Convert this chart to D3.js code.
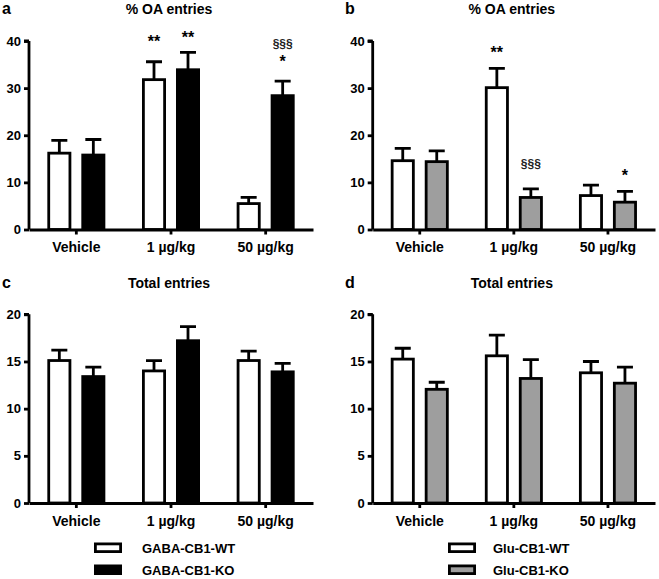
<!DOCTYPE html>
<html>
<head>
<meta charset="utf-8">
<script src="https://cdn.jsdelivr.net/npm/d3@7"></script>
<style>
  html, body { margin: 0; padding: 0; background: #fff; }
  svg text { font-family: "Liberation Sans", Arial, Helvetica, sans-serif; font-weight: bold; fill: #000; }
</style>
</head>
<body>
<svg id="chart" width="659" height="579"></svg>
<script>
// ---------- DATA ----------
const categories = ["Vehicle", "1 µg/kg", "50 µg/kg"];

// Panel a: % OA entries, GABA-CB1
const aWT = [16.2, 31.8, 5.5];
const aWTerr = [2.7, 3.8, 1.3];
const aKO = [15.8, 33.9, 28.4];
const aKOerr = [3.3, 3.7, 3.1];

// Panel b: % OA entries, Glu-CB1
const bWT = [14.6, 30.1, 7.2];
const bWTerr = [2.6, 4.1, 2.2];
const bKO = [14.4, 6.8, 5.8];
const bKOerr = [2.3, 1.8, 2.3];

// Panel c: Total entries, GABA-CB1
const cWT = [15.1, 14.0, 15.1];
const cWTerr = [1.1, 1.1, 1.0];
const cKO = [13.4, 17.2, 13.9];
const cKOerr = [1.0, 1.5, 0.9];

// Panel d: Total entries, Glu-CB1
const dWT = [15.25, 15.6, 13.8];
const dWTerr = [1.15, 2.2, 1.2];
const dKO = [12.05, 13.2, 12.7];
const dKOerr = [0.75, 2.0, 1.7];

const ticksOA = [0, 10, 20, 30, 40];
const ticksTotal = [0, 5, 10, 15, 20];

// significance marks: [category, series, text, level in data units]
const aMarks = [["1 µg/kg", "WT", "**", 38.8], ["1 µg/kg", "KO", "**", 39.6],
                ["50 µg/kg", "KO", "§§§", 38.6], ["50 µg/kg", "KO", "*", 34.4]];
const bMarks = [["1 µg/kg", "WT", "**", 36.4], ["1 µg/kg", "KO", "§§§", 13.1],
                ["50 µg/kg", "KO", "*", 10.2]];

const legendGABA = ["GABA-CB1-WT", "GABA-CB1-KO"];
const legendGlu = ["Glu-CB1-WT", "Glu-CB1-KO"];

// ---------- DRAW ----------
const svg = d3.select("#chart");
const LW = 2.8;

function panel(cfg) {
  const g = svg.append("g");
  const x = d3.scaleBand().domain(categories).range([cfg.x0, cfg.x1]).padding(0);
  const xs = d3.scaleBand().domain(["WT", "KO"]).range([-29, 29]).paddingInner(0.294).paddingOuter(0);
  const y = d3.scaleLinear().domain([0, cfg.ymax]).range([cfg.y0, cfg.y1]);

  const rows = [];
  categories.forEach((c, i) => {
    rows.push({c, s: "WT", v: cfg.wt[i], e: cfg.wtErr[i], fill: "#fff"});
    rows.push({c, s: "KO", v: cfg.ko[i], e: cfg.koErr[i], fill: cfg.koFill});
  });
  const cx = d => x(d.c) + x.bandwidth() / 2 + xs(d.s) + xs.bandwidth() / 2;

  // error bars (upper)
  g.selectAll(".err").data(rows).enter().append("path")
    .attr("d", d => `M${cx(d)},${y(d.v)}V${y(d.v + d.e)}M${cx(d) - 8},${y(d.v + d.e)}H${cx(d) + 8}`)
    .attr("stroke", "#000").attr("stroke-width", LW).attr("fill", "none");

  // bars
  g.selectAll(".bar").data(rows).enter().append("rect")
    .attr("x", d => x(d.c) + x.bandwidth() / 2 + xs(d.s) + LW / 2)
    .attr("width", xs.bandwidth() - LW)
    .attr("y", d => y(d.v))
    .attr("height", d => y(0) - y(d.v))
    .attr("fill", d => d.fill).attr("stroke", "#000").attr("stroke-width", LW);

  // y axis
  const ya = d3.axisLeft(y).tickValues(cfg.ticks).tickSize(5).tickPadding(3).tickFormat(d3.format("d"));
  const yg = g.append("g").attr("transform", `translate(${cfg.x0},0)`).call(ya);
  yg.select(".domain").attr("d", `M0,${cfg.y0}V${cfg.y1}M-5,${cfg.y1}H0`).attr("stroke-width", LW);
  yg.selectAll(".tick line").attr("stroke-width", LW);
  yg.selectAll(".tick text").style("font-size", "13px");
  yg.attr("font-family", null).attr("font-size", null);

  // x axis
  const xa = d3.axisBottom(x).tickSize(5).tickPadding(8).tickSizeOuter(0);
  const xg = g.append("g").attr("transform", `translate(0,${cfg.y0})`).call(xa);
  xg.select(".domain").attr("stroke-width", LW);
  xg.selectAll(".tick line").attr("stroke-width", LW);
  xg.selectAll(".tick text").style("font-size", "14px");
  xg.attr("font-family", null).attr("font-size", null);

  // titles
  g.append("text").attr("x", cfg.labelX).attr("y", cfg.titleY).style("font-size", "16px").text(cfg.label);
  g.append("text").attr("x", (cfg.x0 + cfg.x1) / 2 - 2).attr("y", cfg.titleY).attr("text-anchor", "middle")
    .style("font-size", "14px").text(cfg.title);

  // marks
  (cfg.marks || []).forEach(m => {
    const d = {c: m[0], s: m[1]};
    g.append("text").attr("x", cx(d)).attr("y", y(m[3])).attr("text-anchor", "middle")
      .style("font-size", m[2].startsWith("§") ? "12px" : "16px")
      .style("fill", m[2].startsWith("§") ? "#222" : "#000")
      .text(m[2]);
  });
}

panel({x0: 29, x1: 313, y0: 229.5, y1: 41, ymax: 40, ticks: ticksOA, wt: aWT, wtErr: aWTerr, ko: aKO, koErr: aKOerr,
       koFill: "#000", label: "a", labelX: 2, title: "% OA entries", titleY: 14, marks: aMarks});
panel({x0: 372.7, x1: 655, y0: 229.5, y1: 41, ymax: 40, ticks: ticksOA, wt: bWT, wtErr: bWTerr, ko: bKO, koErr: bKOerr,
       koFill: "#9e9e9e", label: "b", labelX: 345, title: "% OA entries", titleY: 14, marks: bMarks});
panel({x0: 29, x1: 313, y0: 503, y1: 314.3, ymax: 20, ticks: ticksTotal, wt: cWT, wtErr: cWTerr, ko: cKO, koErr: cKOerr,
       koFill: "#000", label: "c", labelX: 2, title: "Total entries", titleY: 288});
panel({x0: 372.7, x1: 655, y0: 503, y1: 314.3, ymax: 20, ticks: ticksTotal, wt: dWT, wtErr: dWTerr, ko: dKO, koErr: dKOerr,
       koFill: "#9e9e9e", label: "d", labelX: 345, title: "Total entries", titleY: 288});

// legends
function legend(names, fills, bx, tx) {
  const lg = svg.append("g");
  names.forEach((n, i) => {
    lg.append("rect").attr("x", bx + LW / 2).attr("y", 542.5 + i * 22 + LW / 2)
      .attr("width", 28 - LW).attr("height", 10.5 - LW)
      .attr("fill", fills[i]).attr("stroke", "#000").attr("stroke-width", LW);
    lg.append("text").attr("x", tx).attr("y", 552.5 + i * 22).style("font-size", "13px").text(n);
  });
}
legend(legendGABA, ["#fff", "#000"], 94, 142);
legend(legendGlu, ["#fff", "#9e9e9e"], 448, 493);
</script>
</body>
</html>
